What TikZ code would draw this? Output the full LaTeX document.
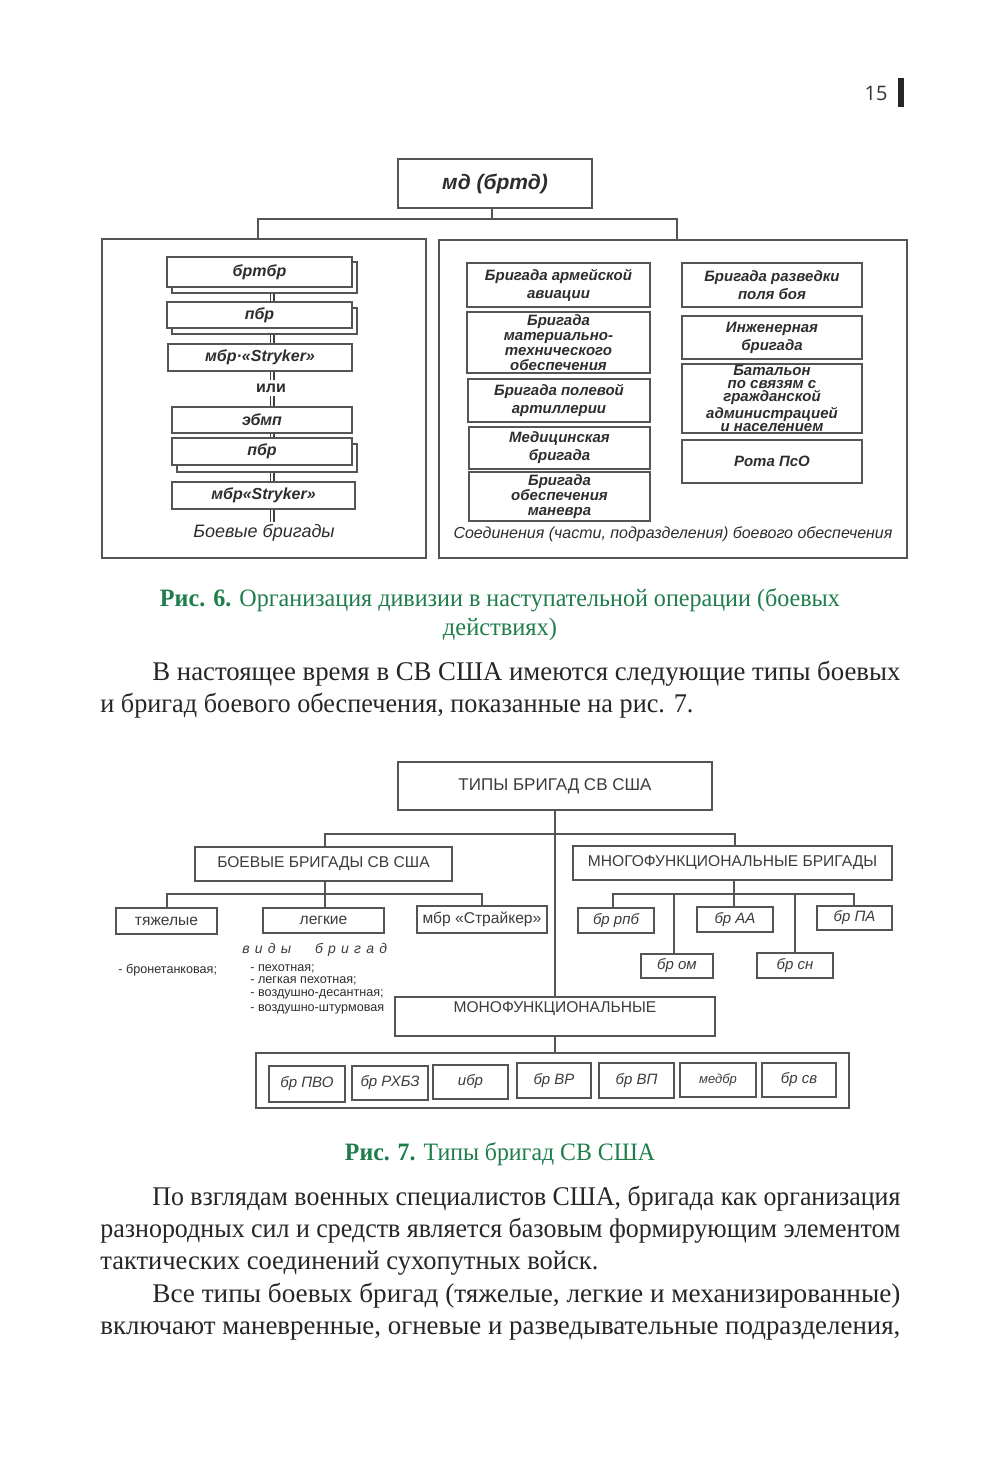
\documentclass[tikz,border=0pt]{standalone}
\usepackage{fontspec}
\usepackage{graphicx}
\setmainfont{Liberation Sans}
\newfontfamily\bodyserif{Liberation Serif}
\newfontfamily\pagenumfont{Open Sans}
\usetikzlibrary{backgrounds}
\definecolor{linegray}{RGB}{85,85,85}
\definecolor{txsix}{RGB}{45,45,45}
\definecolor{txseven}{RGB}{60,60,60}
\definecolor{capgreen}{RGB}{30,125,75}
\newcommand\fitw[2]{\resizebox{#1}{\height}{#2}}
\newcommand\fbi{\bfseries\itshape}
\newcommand\lsp{\hspace{2.6pt}}
\newcommand\bx[7]{\node[#2,minimum width={(#5-#3)*0.5pt},minimum height={(#6-#4)*0.5pt}] (#1) at ({(#3+#5)/2},{(#4+#6)/2}) {#7};}
\tikzset{
  wire/.style={draw=linegray, line width=0.7pt},
  dbl/.style={draw=black!75, line width=0.7pt, double=white, double distance=1.1pt},
  box/.style={wire, fill=white, inner sep=0pt, align=center},
  frame/.style={wire, inner sep=0pt},
  fsixs/.style={text=txsix, font=\fbi\fontsize{8}{9}\selectfont},
  fsixr/.style={text=txsix, font=\fbi\fontsize{7.5}{9}\selectfont},
  fsixd/.style={text=txsix, font=\fbi\fontsize{7.5}{7.5}\selectfont},
  fsixt/.style={text=txsix, font=\fbi\fontsize{7.5}{6.5}\selectfont},
  fsev/.style={text=txseven, font=\fontsize{7.8}{9.5}\selectfont},
  fsevbig/.style={text=txseven, font=\fontsize{8.5}{10}\selectfont},
  fsevi/.style={text=txseven, font=\itshape\fontsize{7.5}{9}\selectfont},
  fsevl/.style={text=txsix, font=\fontsize{6.3}{7}\selectfont, inner sep=0pt, anchor=west},
  body/.style={text=black!85, font=\bodyserif\fontsize{13.5}{16}\selectfont, inner sep=0pt, anchor=base west},
  capt/.style={text=capgreen, font=\bodyserif\fontsize{12.5}{15}\selectfont, inner sep=0pt, anchor=base},
}
\begin{document}
\begin{tikzpicture}[x=0.5pt,y=-0.5pt]
\useasboundingbox (0,0) rectangle (1000,1464);
\begin{scope}[on background layer]
\fill[white] (0,0) rectangle (1000,1464);
\end{scope}

% page number
\node[text=black!80, font=\pagenumfont\fontsize{10}{12}\selectfont] (pg) at (876,93) {15};
\fill[black!85] (898,78) rectangle (904,107);

% ---------------- Figure 6 ----------------
\bx{md}{box,text=txsix,font=\fbi\fontsize{10.5}{12}\selectfont}{398}{159}{592}{208}{мд (бртд)}
\bx{lb}{frame}{102}{239}{426}{558}{}
\bx{rb}{frame}{439}{240}{907}{558}{}

% shadows of stacked boxes
\draw[wire,fill=white] (172,262) rectangle (357,293);
\draw[wire,fill=white] (172,308) rectangle (357,334);
\draw[wire,fill=white] (177,444) rectangle (357,472);

\bx{brtbr}{box,fsixs}{167}{257}{352}{287}{бртбр}
\bx{pbra}{box,fsixs}{167}{302}{352}{328}{пбр}
\bx{mbra}{box,fsixs}{168}{344}{352}{371}{мбр·«Stryker»}
\node[text=txsix, font=\bfseries\fontsize{8}{9}\selectfont, inner sep=1.5pt] (ili) at (271,388) {или};
\bx{ebmp}{box,fsixs}{172}{407}{352}{433}{эбмп}
\bx{pbrb}{box,fsixs}{172}{438}{352}{465}{пбр}
\bx{mbrb}{box,fsixs}{172}{482}{355}{509}{мбр«Stryker»}
\node[text=txsix, font=\itshape\fontsize{9}{10}\selectfont, inner sep=1pt] (bbl) at (264,533) {Боевые бригады};

\bx{ra}{box,fsixr}{467}{263}{650}{307}{Бригада армейской\\авиации}
\bx{rbm}{box,fsixd}{467}{312}{650}{373}{Бригада\\материально-\\технического\\обеспечения}
\bx{rc}{box,fsixr}{468}{379}{650}{422}{Бригада полевой\\артиллерии}
\bx{rd}{box,fsixr}{469}{427}{650}{469}{Медицинская\\бригада}
\bx{re}{box,fsixd}{469}{472}{650}{521}{Бригада\\обеспечения\\маневра}
\bx{sa}{box,fsixr}{682}{263}{862}{307}{Бригада разведки\\поля боя}
\bx{sb}{box,fsixr}{682}{316}{862}{359}{Инженерная\\бригада}
\bx{sc}{box,fsixt}{682}{364}{862}{433}{Батальон\\по связям с\\гражданской\\администрацией\\и населением}
\bx{sd}{box,fsixr}{682}{440}{862}{483}{Рота ПсО}
\node[text=txsix, font=\itshape\fontsize{8}{9}\selectfont] (scl) at (673,534) {Соединения (части, подразделения) боевого обеспечения};

\coordinate (jsix) at (492,219);
\coordinate (lsix) at (258,219);
\coordinate (rsix) at (677,219);
\coordinate (dx) at (272,0);

\begin{scope}[on background layer]
\draw[wire] (jsix |- md.south) -- (jsix);
\draw[wire] (lsix |- lb.north) -- (lsix) -- (rsix) -- (rsix |- rb.north);
\draw[dbl] (brtbr.south -| dx) -- (pbra.north -| dx);
\draw[dbl] (pbra.south -| dx) -- (mbra.north -| dx);
\draw[dbl] (mbra.south -| dx) -- (ili.north -| dx);
\draw[dbl] (ili.south -| dx) -- (ebmp.north -| dx);
\draw[dbl] (ebmp.south -| dx) -- (pbrb.north -| dx);
\draw[dbl] (pbrb.south -| dx) -- (mbrb.north -| dx);
\draw[dbl] (mbrb.south -| dx) -- (bbl.north -| dx);
\end{scope}

% captions and text
\node[capt] (capsixa) at (500,606) {\fitw{340pt}{{\bfseries Рис. 6.} Организация дивизии в наступательной операции (боевых}};
\node[capt] (capsixb) at (500,635) {\fitw{57pt}{действиях)}};
\node[body] (ta) at (152,680) {\fitw{374pt}{В настоящее время в СВ США имеются следующие типы боевых}};
\node[body] (tb) at (100,712) {\fitw{296.5pt}{и бригад боевого обеспечения, показанные на рис. 7.}};

% ---------------- Figure 7 ----------------
\bx{tt}{box,fsevbig}{398}{762}{712}{810}{ТИПЫ БРИГАД СВ США}
\bx{bbx}{box,fsev}{195}{847}{452}{881}{БОЕВЫЕ БРИГАДЫ СВ США}
\bx{mfx}{box,fsev}{573}{846}{892}{880}{МНОГОФУНКЦИОНАЛЬНЫЕ БРИГАДЫ}
\bx{tya}{box,fsev}{116}{908}{217}{934}{тяжелые}
\bx{leg}{box,fsev}{263}{908}{384}{933}{легкие}
\bx{stk}{box,fsev}{417}{906}{547}{933}{мбр «Страйкер»}
\bx{rpb}{box,fsevi}{578}{908}{654}{933}{бр рпб}
\bx{om}{box,fsevi}{641}{954}{713}{978}{бр ом}
\bx{aa}{box,fsevi}{697}{907}{773}{932}{бр АА}
\bx{sn}{box,fsevi}{757}{953}{833}{978}{бр сн}
\bx{pa}{box,fsevi}{817}{906}{892}{930}{бр ПА}
\bx{mono}{box,fsev}{395}{997}{715}{1036}{МОНОФУНКЦИОНАЛЬНЫЕ\\\mbox{}}
\bx{bot}{frame}{256}{1053}{849}{1108}{}
\bx{ba}{box,fsevi}{269}{1066}{345}{1102}{бр ПВО}
\bx{bb}{box,fsevi}{352}{1066}{428}{1100}{бр РХБЗ}
\bx{bc}{box,fsevi}{433}{1065}{508}{1099}{ибр}
\bx{bd}{box,fsevi}{517}{1063}{591}{1098}{бр ВР}
\bx{be}{box,fsevi}{599}{1063}{674}{1098}{бр ВП}
\bx{bf}{box,fsevi,font=\itshape\fontsize{6.5}{8}\selectfont}{680}{1063}{756}{1097}{медбр}
\bx{bg}{box,fsevi}{762}{1063}{836}{1097}{бр св}

\node[text=txseven, font=\itshape\fontsize{7}{8}\selectfont, inner sep=0pt, anchor=west] (vb) at (242,950) {в\lsp и\lsp д\lsp ы\hspace{12pt}б\lsp р\lsp и\lsp г\lsp а\lsp д};
\node[fsevl] (la) at (118,970) {- бронетанковая;};
\node[fsevl] (lb1) at (250,969) {- пехотная;};
\node[fsevl] (lb2) at (250,981) {- легкая пехотная;};
\node[fsevl] (lb3) at (250,994) {- воздушно-десантная;};
\node[fsevl] (lb4) at (250,1009) {- воздушно-штурмовая};

\coordinate (cm) at (555,834);
\coordinate (cl) at (325,834);
\coordinate (cr) at (735,834);
\coordinate (bj) at (325,894);
\coordinate (bl) at (167,894);
\coordinate (br) at (482,894);
\coordinate (mj) at (734,894);
\coordinate (ma) at (613,894);
\coordinate (mb) at (674,894);
\coordinate (mc) at (795,894);
\coordinate (md5) at (854,894);

\begin{scope}[on background layer]
\draw[wire] (tt.south -| cm) -- (mono.north -| cm);
\draw[wire] (cl |- bbx.north) -- (cl) -- (cr) -- (cr |- mfx.north);
\draw[wire] (bbx.south -| bj) -- (bj |- leg.north);
\draw[wire] (bl |- tya.north) -- (bl) -- (br) -- (br |- stk.north);
\draw[wire] (mfx.south -| mj) -- (mj |- aa.north);
\draw[wire] (ma |- rpb.north) -- (ma) -- (md5) -- (md5 |- pa.north);
\draw[wire] (mb) -- (mb |- om.north);
\draw[wire] (mc) -- (mc |- sn.north);
\draw[wire] (mono.south -| cm) -- (bot.north -| cm);
\end{scope}

\node[capt] (capseven) at (500,1160) {\fitw{155pt}{{\bfseries Рис. 7.} Типы бригад СВ США}};
\node[body] (tc) at (152,1205) {\fitw{374pt}{По взглядам военных специалистов США, бригада как организация}};
\node[body] (td) at (100,1237) {\fitw{400pt}{разнородных сил и средств является базовым формирующим элементом}};
\node[body] (te) at (100,1269) {\fitw{249pt}{тактических соединений сухопутных войск.}};
\node[body] (tf) at (152,1302) {\fitw{374pt}{Все типы боевых бригад (тяжелые, легкие и механизированные)}};
\node[body] (tg) at (100,1334) {\fitw{400pt}{включают маневренные, огневые и разведывательные подразделения,}};
\end{tikzpicture}
\end{document}
